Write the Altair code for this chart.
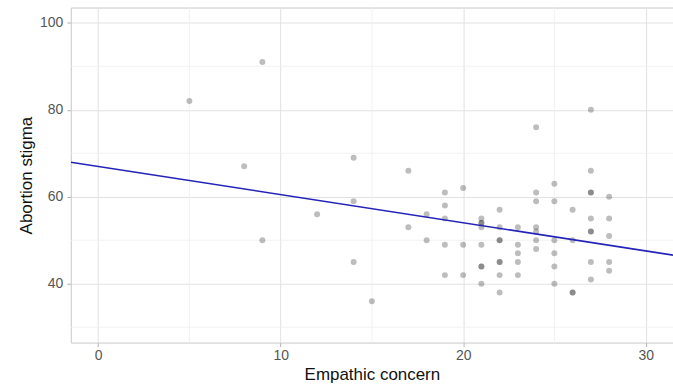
import altair as alt
import pandas as pd

# Scatter data (Empathic concern, Abortion stigma)
empathy = [5, 8, 9, 9, 12, 14, 14, 14, 15, 17, 17, 18, 18,
           19, 19, 19, 19, 19,
           20, 20, 20,
           21, 21, 21, 21, 21, 21, 21, 21,
           22, 22, 22, 22, 22, 22, 22, 22,
           23, 23, 23, 23, 23,
           24, 24, 24, 24, 24, 24, 24,
           25, 25, 25, 25, 25, 25,
           26, 26, 26, 26,
           27, 27, 27, 27, 27, 27, 27, 27, 27,
           28, 28, 28, 28, 28]
stigma = [82, 67, 91, 50, 56, 69, 59, 45, 36, 66, 53, 56, 50,
          61, 58, 55, 49, 42,
          62, 49, 42,
          55, 54, 54, 53, 49, 44, 44, 40,
          57, 53, 50, 50, 45, 45, 42, 38,
          53, 49, 47, 45, 42,
          76, 61, 59, 53, 52, 50, 48,
          63, 59, 50, 47, 44, 40,
          57, 50, 38, 38,
          80, 66, 61, 61, 55, 52, 52, 45, 41,
          60, 55, 51, 45, 43]

# Fitted line endpoints
fit_x = [-1.5, 31.5]
fit_y = [67.95, 46.6]

# Axis ticks / grid
x_major = [0, 10, 20, 30]
x_minor = [5, 15, 25]
y_major = [40, 60, 80, 100]
y_minor = [30, 50, 70, 90]

x_domain = [-1.5, 31.5]
y_domain = [26.5, 103.5]

pts = pd.DataFrame({"x": empathy, "y": stigma})
fit = pd.DataFrame({"x": fit_x, "y": fit_y})
xm = pd.DataFrame({"v": x_minor})
ym = pd.DataFrame({"v": y_minor})

FONT = "Liberation Sans"
GRID = "#e2e2e2"
MINOR = "#efefef"

xscale = alt.Scale(domain=x_domain, nice=False, zero=False)
yscale = alt.Scale(domain=y_domain, nice=False, zero=False)

common = dict(grid=True, gridColor=GRID, gridWidth=1, domain=False,
              tickColor="#b3b3b3", tickSize=4,
              labelColor="#555555", labelFontSize=14,
              titleFontSize=17, titleFontWeight="normal", titleColor="#111111",
              labelFont=FONT, titleFont=FONT)

xaxis = alt.Axis(values=x_major, title="Empathic concern", labelPadding=2,
                 titlePadding=4, **common)
yaxis = alt.Axis(values=y_major, title="Abortion stigma", labelPadding=4,
                 titlePadding=4, **common)

minor_x = alt.Chart(xm).mark_rule(color=MINOR, strokeWidth=0.8).encode(
    x=alt.X("v:Q", scale=xscale, axis=xaxis)
)
minor_y = alt.Chart(ym).mark_rule(color=MINOR, strokeWidth=0.8).encode(
    y=alt.Y("v:Q", scale=yscale, axis=yaxis)
)

points = alt.Chart(pts).mark_circle(size=36, color="#000000", opacity=0.26).encode(
    x=alt.X("x:Q", scale=xscale, axis=xaxis),
    y=alt.Y("y:Q", scale=yscale, axis=yaxis),
)

line = alt.Chart(fit).mark_line(color="#2424b8", strokeWidth=1.6, clip=True).encode(
    x=alt.X("x:Q", scale=xscale, axis=xaxis),
    y=alt.Y("y:Q", scale=yscale, axis=yaxis),
)

chart = alt.layer(minor_x, minor_y, points, line).properties(
    width=604, height=336,
    autosize=alt.AutoSizeParams(type="none"),
    padding={"left": 71, "top": 7, "right": 0, "bottom": 41},
    background="white",
).configure_view(stroke="#c8c8c8", strokeWidth=1)

chart.save("out.html", embed_options={"renderer": "svg", "actions": False})
